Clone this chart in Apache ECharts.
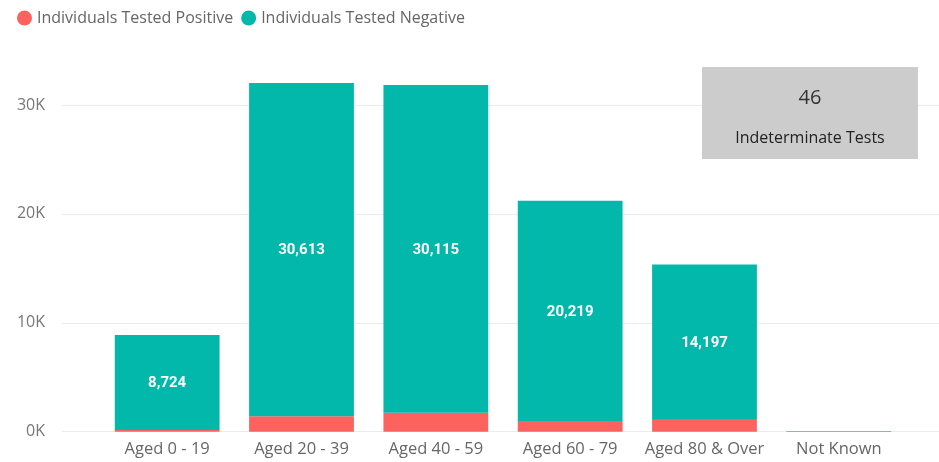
<!DOCTYPE html>
<html>
<head>
<meta charset="utf-8">
<script src="https://cdn.jsdelivr.net/npm/echarts@6/dist/echarts.min.js"></script>
<style>html,body{margin:0;padding:0;background:#fff}#c{width:939px;height:462px}</style>
</head>
<body>
<div id="c"></div>
<script>
const categories = ['Aged 0 - 19', 'Aged 20 - 39', 'Aged 40 - 59', 'Aged 60 - 79', 'Aged 80 & Over', 'Not Known'];
const positive = [160, 1413, 1730, 980, 1160, 10];
const negative = [8724, 30613, 30115, 20219, 14197, 60];
const yTicks = [0, 10000, 20000, 30000];
const indeterminate = 46;
const indeterminateLabel = 'Indeterminate Tests';

const chart = echarts.init(document.getElementById('c'));
const font = 'Open Sans';
chart.setOption({
  animation: false,
  legend: {
    left: 12, top: 5,
    icon: 'circle', itemWidth: 15, itemHeight: 15, itemGap: 8,
    textStyle: { color: '#666', fontSize: 16, fontFamily: font },
    data: ['Individuals Tested Positive', 'Individuals Tested Negative']
  },
  grid: [
    { left: 62, right: 0, top: 105, bottom: 30.3 },
    { left: 100, width: 806, top: 105, bottom: 30.3 }
  ],
  xAxis: [
    { gridIndex: 0, type: 'value', show: false },
    { gridIndex: 1, type: 'category', data: categories,
      axisLine: { show: false }, axisTick: { show: false },
      axisLabel: { color: '#666', fontSize: 16.5, fontFamily: font, margin: 9, interval: 0, hideOverlap: false } }
  ],
  yAxis: [
    { gridIndex: 0, type: 'value', min: yTicks[0], max: yTicks[yTicks.length - 1], interval: 10000,
      axisLine: { show: false }, axisTick: { show: false },
      splitLine: { lineStyle: { color: '#ebebeb', width: 1 } },
      axisLabel: { color: '#777', fontSize: 16, fontFamily: font, margin: 17,
        formatter: v => (v / 1000) + 'K' } },
    { gridIndex: 1, type: 'value', min: yTicks[0], max: yTicks[yTicks.length - 1], interval: 10000, show: false,
      splitLine: { show: false } }
  ],
  series: [
    { name: 'Individuals Tested Positive', type: 'bar', stack: 't', xAxisIndex: 1, yAxisIndex: 1,
      barWidth: '78%', clip: false, itemStyle: { color: '#FD625E' }, data: positive },
    { name: 'Individuals Tested Negative', type: 'bar', stack: 't', xAxisIndex: 1, yAxisIndex: 1,
      barWidth: '78%', clip: false, itemStyle: { color: '#01B8AA' },
      label: { show: true, position: 'inside', color: '#fff', fontWeight: 'bold', fontSize: 15,
        fontFamily: 'Roboto', offset: [0, 1],
        formatter: p => p.value >= 1000 ? p.value.toLocaleString('en-US') : '' },
      data: negative }
  ],
  graphic: [
    { type: 'rect', left: 702, top: 67, shape: { width: 216, height: 92 },
      style: { fill: '#cccccc' }, z: 10 },
    { type: 'text', x: 810, y: 98, z: 11,
      style: { text: String(indeterminate), fill: '#333', fontSize: 20, fontFamily: font,
        align: 'center', verticalAlign: 'middle' } },
    { type: 'text', x: 810, y: 138, z: 11,
      style: { text: indeterminateLabel, fill: '#222', fontSize: 16, fontFamily: font,
        align: 'center', verticalAlign: 'middle' } }
  ]
});
</script>
</body>
</html>
